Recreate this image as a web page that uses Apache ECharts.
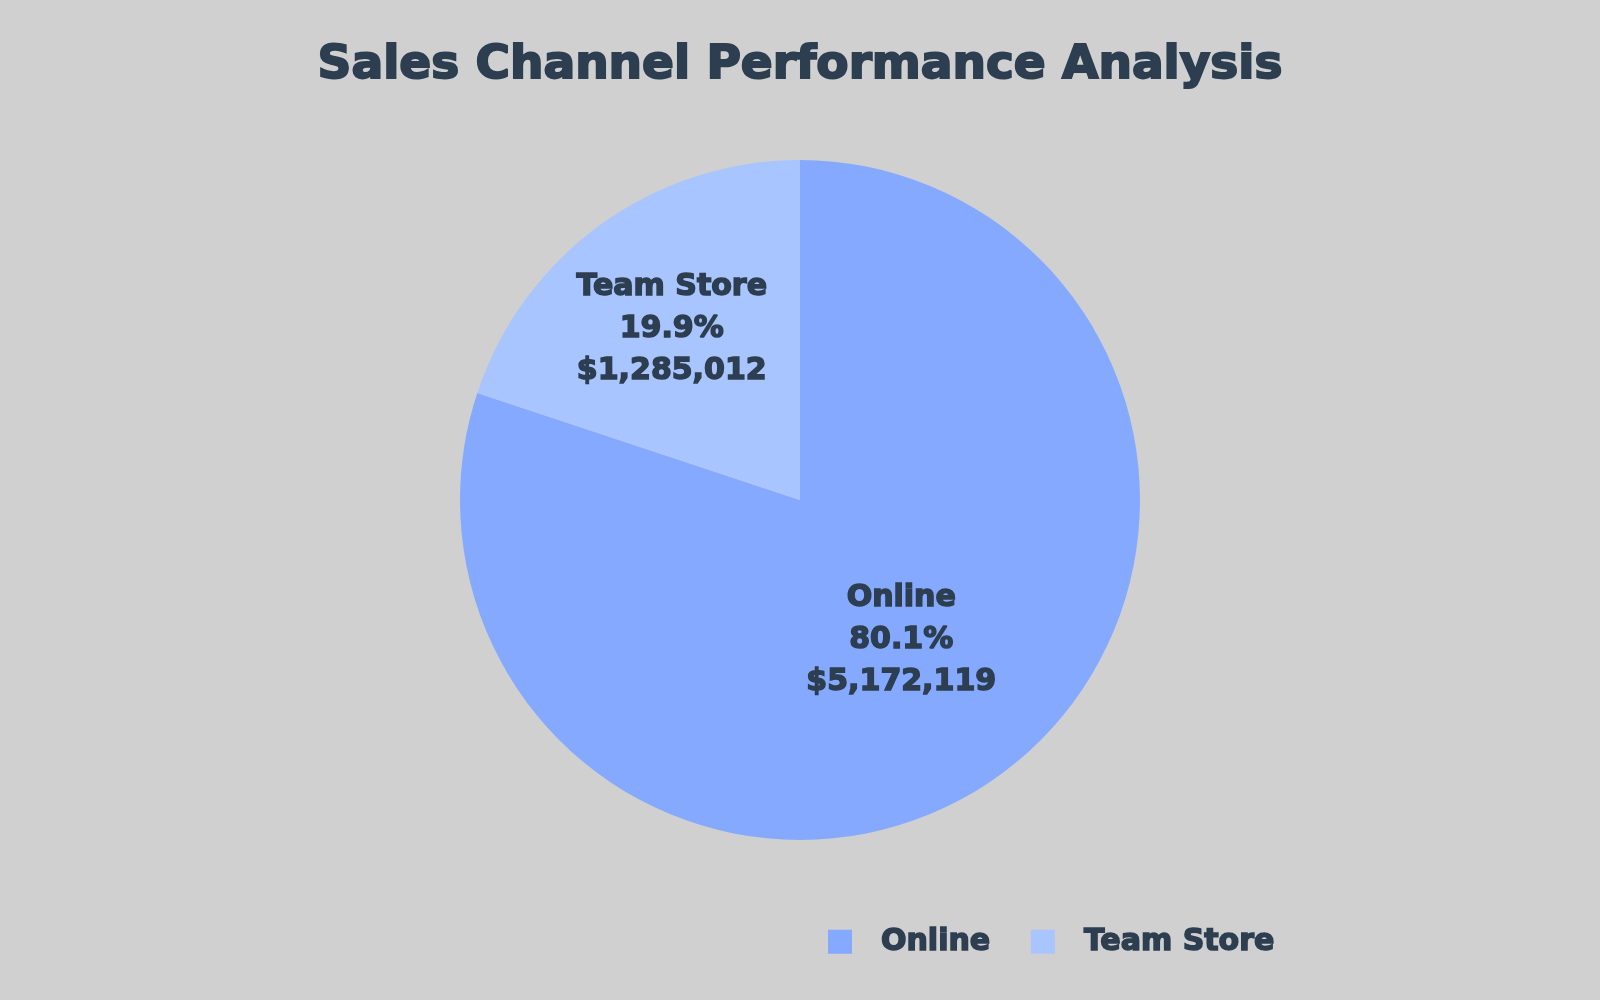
<!DOCTYPE html>
<html>
<head>
<meta charset="utf-8">
<title>Sales Channel Performance Analysis</title>
<script src="https://cdn.jsdelivr.net/npm/echarts@6/dist/echarts.min.js"></script>
<style>
  html, body { margin: 0; padding: 0; background: #d0d0d0; }
  #chart { width: 1600px; height: 1000px; }
</style>
</head>
<body>
<div id="chart"></div>
<script>
// chart data
const channels = ['Online', 'Team Store']
const sales = [5172119, 1285012]
const colors = ['#85a9ff', '#a8c5ff']

const textColor = '#2c3e50'
const font = 'DejaVu Sans'

const chart = echarts.init(document.getElementById('chart'))

const option = {
  backgroundColor: '#d0d0d0',
  title: {
    text: 'Sales Channel Performance Analysis',
    left: 'center',
    top: 37,
    textStyle: {
      color: textColor,
      fontFamily: font,
      fontWeight: 'bold',
      fontSize: 47,
      textBorderColor: textColor,
      textBorderWidth: 2
    }
  },
  legend: {
    left: 823,
    top: 921,
    icon: 'rect',
    itemWidth: 24,
    itemHeight: 24,
    itemGap: 40,
    textStyle: {
      color: textColor,
      fontFamily: font,
      fontWeight: 'bold',
      fontSize: 30,
      textBorderColor: textColor,
      textBorderWidth: 1.5,
      padding: [0, 0, 0, 24]
    },
    data: channels
  },
  series: [{
    type: 'pie',
    center: [800, 500],
    radius: 340,
    startAngle: 90,
    clockwise: true,
    avoidLabelOverlap: false,
    label: {
      show: true,
      position: 'inside',
      color: textColor,
      fontFamily: font,
      fontWeight: 'bold',
      fontSize: 30,
      lineHeight: 42,
      textBorderColor: textColor,
      textBorderWidth: 1.5,
      formatter: function(p) {
        return p.name + '\n' + p.percent.toFixed(1) + '%\n$' + p.value.toLocaleString('en-US')
      }
    },
    labelLine: { show: false },
    emphasis: { disabled: true },
    data: channels.map(function(name, i) {
      const item = {
        name: name,
        value: sales[i],
        itemStyle: { color: colors[i] }
      }
      // the smaller slice's label sits a bit further out
      if (i === 1) {
        item.label = { offset: [-27, -31] }
      }
      return item
    })
  }]
}

chart.setOption(option)
</script>
</body>
</html>
